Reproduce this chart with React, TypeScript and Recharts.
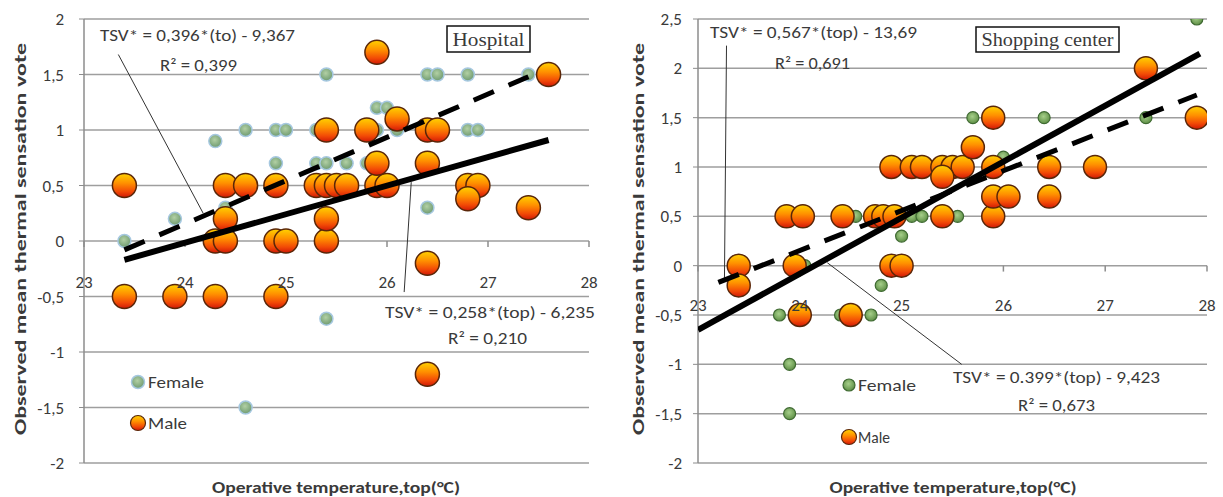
import React from 'react';
import { ScatterChart, Scatter, XAxis, YAxis, CartesianGrid, ReferenceLine, ReferenceDot } from 'recharts';

// x = operative temperature (°C), y = observed mean thermal sensation vote
const xTicks = [23, 24, 25, 26, 27, 28];
const hospYTicks = [-2, -1.5, -1, -0.5, 0, 0.5, 1, 1.5, 2];
const shopYTicks = [-2, -1.5, -1, -0.5, 0, 0.5, 1, 1.5, 2, 2.5];

const hospFemale = [
  [23.4, 0], [23.9, 0.2], [24.3, 0.9], [24.4, 0.3], [24.6, 1], [24.9, 1], [25.0, 1],
  [24.9, 0.7], [25.3, 1], [25.3, 0.7], [25.4, 0.7], [25.6, 0.7], [25.8, 0.7], [25.4, 1.5],
  [25.9, 1.2], [26.0, 1.2], [25.9, 1], [26.1, 1], [26.4, 1.5], [26.5, 1.5], [26.8, 1.5],
  [27.4, 1.5], [26.8, 1], [26.9, 1], [26.4, 0.3], [25.4, -0.7], [24.6, -1.5],
];
const hospMale = [
  [23.4, -0.5], [23.9, -0.5], [24.3, -0.5], [24.9, -0.5],
  [23.4, 0.5], [24.4, 0.5], [24.6, 0.5], [24.9, 0.5], [25.3, 0.5], [25.4, 0.5], [25.5, 0.5],
  [25.6, 0.5], [25.9, 0.5], [26.0, 0.5],
  [24.3, 0], [24.4, 0], [24.9, 0], [25.0, 0], [25.4, 0], [24.4, 0.2], [25.4, 0.2],
  [25.4, 1], [25.8, 1], [26.4, 1], [26.5, 1], [26.1, 1.1], [25.9, 1.7], [25.9, 0.7],
  [26.4, 0.7], [27.6, 1.5], [26.8, 0.5], [26.9, 0.5], [26.8, 0.38], [27.4, 0.3],
  [26.4, -0.2], [26.4, -1.2],
];
const hospMaleFit = [[23.4, -0.17], [27.6, 0.91]];
const hospFemaleFit = [[23.4, -0.08], [27.4, 1.48]];

const shopFemale = [
  [23.8, -0.5], [23.9, -1], [23.9, -1.5], [24.4, -0.5], [24.7, -0.5], [24.8, -0.2],
  [25.0, 0.3], [24.05, 0], [24.55, 0.5], [25.1, 0.5], [25.2, 0.5], [25.55, 0.5],
  [25.7, 1.5], [26.4, 1.5], [27.4, 1.5], [26.0, 1.1], [27.9, 2.5],
];
const shopMale = [
  [23.4, 0], [23.4, -0.2], [23.95, 0], [24.0, -0.5], [24.5, -0.5], [24.9, 0], [25.0, 0],
  [23.87, 0.5], [24.03, 0.5], [24.42, 0.5], [24.74, 0.5], [24.82, 0.5], [24.93, 0.5],
  [25.4, 0.5], [25.9, 0.5],
  [24.9, 1], [25.1, 1], [25.2, 1], [25.4, 1], [25.5, 1], [25.6, 1], [25.9, 1], [26.45, 1],
  [26.9, 1], [25.4, 0.9], [25.7, 1.2], [25.9, 1.5], [27.4, 2], [27.9, 1.5],
  [25.9, 0.7], [26.05, 0.7], [26.45, 0.7],
];
const shopMaleFit = [[23.0, -0.65], [27.93, 2.15]];
const shopFemaleFit = [[23.2, -0.17], [27.9, 1.73]];

// annotation leader lines, in data units
const hospLeaders = [
  [[23.34, 1.68], [24.18, 0.25]],
  [[26.24, 0.53], [26.17, -0.46]],
];
const shopLeaders = [
  [[23.28, 2.23], [23.26, -0.13]],
  [[24.27, 0.03], [25.59, -1.0]],
];

const FONT = 'Carlito, Lato, "Open Sans", sans-serif';
const TXT = '#3a3a3a';
const fmt = (v: number) => String(v).replace('.', ',');
const toPts = (a: number[][]) => a.map(([x, y]) => ({ x, y }));

const noDot = () => <g />;
const maleDot = (r: number) => (p: any) => (
  <circle cx={p.cx} cy={p.cy} r={r} fill="url(#maleGrad)" stroke="#5a2608" strokeWidth={1.5} />
);
const femaleDot = (kind: 'hosp' | 'shop') => (p: any) =>
  kind === 'hosp' ? (
    <circle cx={p.cx} cy={p.cy} r={6.5} fill="url(#femHosp)" stroke="#a6c8e0" strokeWidth={1.5} />
  ) : (
    <circle cx={p.cx} cy={p.cy} r={6} fill="url(#femShop)" stroke="#3f6a32" strokeWidth={1.2} />
  );

type PanelProps = {
  width: number;
  margin: { top: number; right: number; bottom: number; left: number };
  yDomain: [number, number];
  yTicks: number[];
  tickMargin: number;
  female: number[][];
  male: number[][];
  femaleFit: number[][];
  maleFit: number[][];
  leaders: number[][][];
  kind: 'hosp' | 'shop';
  labelY: number;
  tickDrop: number;
  maleR: number;
};

function Panel(props: PanelProps) {
  const { width, margin, yDomain, yTicks, tickMargin, female, male, femaleFit, maleFit, leaders, kind, labelY, tickDrop, maleR } = props;
  return (
    <ScatterChart width={width} height={497} margin={margin}>
      <CartesianGrid vertical={false} stroke="#9e9e9e" strokeWidth={1.5} />
      <XAxis type="number" dataKey="x" domain={[23, 28]} ticks={xTicks} hide allowDataOverflow />
      <YAxis
        type="number"
        dataKey="y"
        domain={yDomain}
        ticks={yTicks}
        interval={0}
        width={60}
        tickSize={5}
        tickMargin={tickMargin}
        tickFormatter={fmt}
        axisLine={{ stroke: '#8c8c8c', strokeWidth: 1.5 }}
        tickLine={{ stroke: '#8c8c8c' }}
        tick={{ fill: TXT, fontSize: 17, fontFamily: FONT }}
        allowDataOverflow
      />
      {xTicks.map((t) => (
        <ReferenceLine key={'tk' + t} segment={[{ x: t, y: 0 }, { x: t, y: -tickDrop }]} stroke="#8c8c8c" strokeWidth={1.5} />
      ))}
      {xTicks.map((t) => (
        <ReferenceDot
          key={'lb' + t}
          x={t}
          y={labelY}
          r={0}
          fill="none"
          stroke="none"
          label={{ value: String(t), position: 'center', fill: TXT, fontSize: 17, fontFamily: FONT }}
        />
      ))}
      {leaders.map((s, i) => (
        <ReferenceLine key={'ld' + i} segment={[{ x: s[0][0], y: s[0][1] }, { x: s[1][0], y: s[1][1] }]} stroke="#333" strokeWidth={1} />
      ))}
      <Scatter data={toPts(female)} shape={femaleDot(kind)} isAnimationActive={false} />
      <Scatter data={toPts(male)} shape={maleDot(maleR)} isAnimationActive={false} />
      <Scatter data={toPts(maleFit)} shape={noDot} line={{ stroke: '#000', strokeWidth: 6 }} isAnimationActive={false} />
      <Scatter
        data={toPts(femaleFit)}
        shape={noDot}
        line={{ stroke: '#000', strokeWidth: 5, strokeDasharray: '22 16' }}
        isAnimationActive={false}
      />
    </ScatterChart>
  );
}

const T = (p: { x: number; y: number; w: number; children: React.ReactNode; size?: number; anchor?: string; bold?: boolean; family?: string }) => (
  <text
    x={p.x}
    y={p.y}
    textLength={p.w}
    lengthAdjust="spacingAndGlyphs"
    dominantBaseline="central"
    textAnchor={(p.anchor as any) || 'start'}
    fontSize={p.size || 16}
    fontWeight={p.bold ? 'bold' : 'normal'}
    fontFamily={p.family || FONT}
    fill={TXT}
  >
    {p.children}
  </text>
);

function Overlay() {
  const legendFemale = (cx: number, cy: number, kind: 'hosp' | 'shop') => femaleDot(kind)({ cx, cy });
  return (
    <svg width={1223} height={497} style={{ position: 'absolute', left: 0, top: 0, pointerEvents: 'none' }}>
      {/* hospital panel */}
      <T x={100} y={35} w={195}>TSV* = 0,396*(to) - 9,367</T>
      <T x={160} y={65} w={77}>R² = 0,399</T>
      <T x={385} y={312} w={210}>TSV* = 0,258*(top) - 6,235</T>
      <T x={448} y={338} w={79}>R² = 0,210</T>
      <rect x={447} y={26} width={83} height={26} fill="#fff" stroke="#111" strokeWidth={1.5} />
      <T x={488.5} y={39} w={72} size={19} anchor="middle" family='"Liberation Serif", serif'>Hospital</T>
      {legendFemale(138, 382, 'hosp')}
      <T x={148} y={382} w={56}>Female</T>
      <circle cx={138} cy={423} r={7.5} fill="url(#maleGrad)" stroke="#5a2608" strokeWidth={1.2} />
      <T x={148} y={423} w={39}>Male</T>
      <g transform="translate(20,239) rotate(-90)">
        <T x={0} y={0} w={392} bold anchor="middle">Observed mean thermal sensation vote</T>
      </g>
      <T x={336} y={487} w={248} bold anchor="middle">Operative temperature,top(°C)</T>

      {/* shopping panel */}
      <T x={710} y={32} w={207}>TSV* = 0,567*(top) - 13,69</T>
      <T x={775} y={63} w={75}>R² = 0,691</T>
      <T x={953} y={377} w={207}>TSV* = 0.399*(top) - 9,423</T>
      <T x={1018} y={405} w={77}>R² = 0,673</T>
      <rect x={976} y={27} width={143} height={25} fill="#fff" stroke="#111" strokeWidth={1.5} />
      <T x={1047.5} y={39.5} w={132} size={19} anchor="middle" family='"Liberation Serif", serif'>Shopping center</T>
      {legendFemale(849, 385, 'shop')}
      <T x={858} y={385} w={58}>Female</T>
      <circle cx={849} cy={437} r={7.5} fill="url(#maleGrad)" stroke="#5a2608" strokeWidth={1.2} />
      <T x={858} y={437} w={32}>Male</T>
      <g transform="translate(638,239) rotate(-90)">
        <T x={0} y={0} w={392} bold anchor="middle">Observed mean thermal sensation vote</T>
      </g>
      <T x={953} y={487} w={247} bold anchor="middle">Operative temperature,top(°C)</T>
    </svg>
  );
}

export default function App() {
  return (
    <div style={{ position: 'absolute', left: 0, top: 0, width: 1223, height: 497, background: '#fff', fontFamily: FONT }}>
      <svg width={0} height={0} style={{ position: 'absolute' }}>
        <defs>
          <linearGradient id="maleGrad" x1="0" y1="0" x2="0" y2="1">
            <stop offset="0%" stopColor="#ffd200" />
            <stop offset="40%" stopColor="#ff9000" />
            <stop offset="75%" stopColor="#f24a06" />
            <stop offset="100%" stopColor="#d01806" />
          </linearGradient>
          <radialGradient id="femHosp" cx="0.45" cy="0.4" r="0.6">
            <stop offset="0%" stopColor="#b2d0a4" />
            <stop offset="100%" stopColor="#6e9a70" />
          </radialGradient>
          <radialGradient id="femShop" cx="0.45" cy="0.4" r="0.6">
            <stop offset="0%" stopColor="#a6cf8a" />
            <stop offset="100%" stopColor="#5e8f45" />
          </radialGradient>
        </defs>
      </svg>
      <div style={{ position: 'absolute', left: 0, top: 0 }}>
        <Panel
          width={610}
          margin={{ top: 19, right: 21, bottom: 34, left: 24 }}
          yDomain={[-2, 2]}
          yTicks={hospYTicks}
          tickMargin={15}
          female={hospFemale}
          male={hospMale}
          femaleFit={hospFemaleFit}
          maleFit={hospMaleFit}
          leaders={hospLeaders}
          kind="hosp"
          labelY={-0.37}
          tickDrop={0.055}
          maleR={12}
        />
      </div>
      <div style={{ position: 'absolute', left: 610, top: 0 }}>
        <Panel
          width={613}
          margin={{ top: 19, right: 16, bottom: 34, left: 28 }}
          yDomain={[-2, 2.5]}
          yTicks={shopYTicks}
          tickMargin={11}
          female={shopFemale}
          male={shopMale}
          femaleFit={shopFemaleFit}
          maleFit={shopMaleFit}
          leaders={shopLeaders}
          kind="shop"
          labelY={-0.4}
          tickDrop={0.06}
          maleR={11.5}
        />
      </div>
      <Overlay />
    </div>
  );
}
